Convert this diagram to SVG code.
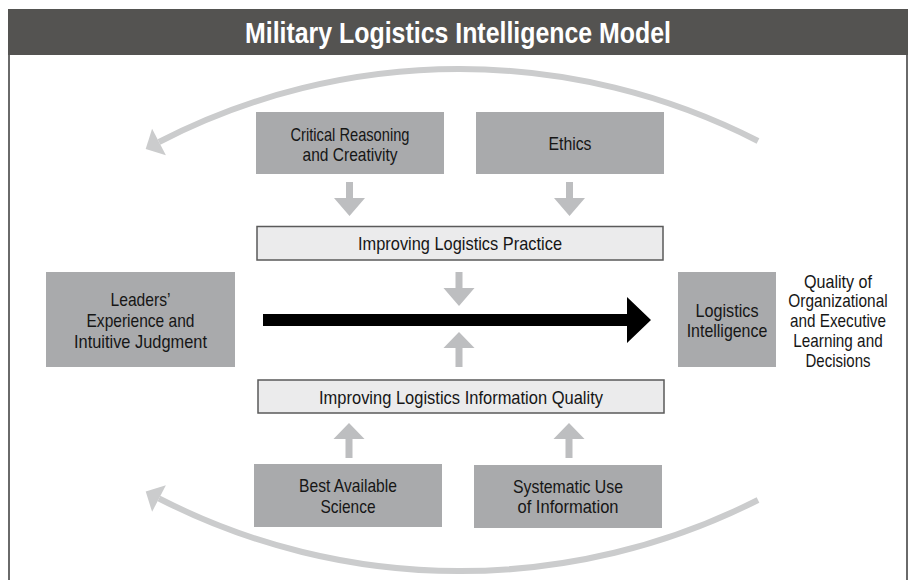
<svg xmlns="http://www.w3.org/2000/svg" xmlns:xlink="http://www.w3.org/1999/xlink" width="910" height="580" viewBox="0 0 910 580">
  <defs>
    <style>
      .box { fill: #a9aaac; }
      .lbox { fill: #ebebec; stroke: #5a5a5a; stroke-width: 1.5; }
      .t { font-family: "Liberation Sans", Arial, sans-serif; font-size: 19px; fill: #161616; text-anchor: middle; }
      .title { font-family: "Liberation Sans", Arial, sans-serif; font-size: 29px; font-weight: bold; fill: #ffffff; text-anchor: middle; }
      .arc { fill: none; stroke: #cbcccd; stroke-width: 6; }
      .archead { fill: #cbcccd; }
      .sarrow { fill: #bdbec0; }
      .border { stroke: #6a6a6a; stroke-width: 2; fill: none; }
    </style>
    <path id="arrow-down" d="M -3.5 -34 H 3.5 V -18 H 15.5 L 0 0 L -15.5 -18 H -3.5 Z"/>
    <path id="arrow-up" d="M -3.5 35 H 3.5 V 16 H 15.5 L 0 0 L -15.5 16 H -3.5 Z"/>
  </defs>

  <rect x="0" y="0" width="910" height="580" fill="#ffffff"/>

  <g id="frame">
    <rect x="8" y="9" width="900" height="46" fill="#545351"/>
    <line class="border" x1="9" y1="55" x2="9" y2="580"/>
    <line class="border" x1="907" y1="55" x2="907" y2="580"/>
    <text class="title" x="458" y="42.5" textLength="426" lengthAdjust="spacingAndGlyphs">Military Logistics Intelligence Model</text>
  </g>

  <g id="connectors">
    <path class="arc" d="M 758 141 A 655 655 0 0 0 159 142"/>
    <polygon class="archead" points="152.1,128.7 145.7,148.9 165.9,155.3"/>
    <path class="arc" d="M 758 500 A 660 660 0 0 1 159 498.5"/>
    <polygon class="archead" points="152.1,511.8 145.7,491.6 165.9,485.2"/>

    <use xlink:href="#arrow-down" class="sarrow" transform="translate(349.5,216)"/>
    <use xlink:href="#arrow-down" class="sarrow" transform="translate(569.5,216)"/>
    <use xlink:href="#arrow-down" class="sarrow" transform="translate(459,306)"/>
    <use xlink:href="#arrow-up" class="sarrow" transform="translate(459,332)"/>
    <use xlink:href="#arrow-up" class="sarrow" transform="translate(349,423)"/>
    <use xlink:href="#arrow-up" class="sarrow" transform="translate(569,423)"/>

    <path id="main-arrow" d="M 263 314 H 627 V 297 L 651 320 L 627 343 V 326 H 263 Z" fill="#000000"/>
  </g>

  <g id="node-critical">
    <rect class="box" x="256" y="112" width="188" height="62"/>
    <text class="t" x="350" y="141" textLength="119" lengthAdjust="spacingAndGlyphs">Critical Reasoning</text>
    <text class="t" x="350" y="161" textLength="95" lengthAdjust="spacingAndGlyphs">and Creativity</text>
  </g>

  <g id="node-ethics">
    <rect class="box" x="476" y="112" width="188" height="62"/>
    <text class="t" x="570" y="149.5" textLength="43" lengthAdjust="spacingAndGlyphs">Ethics</text>
  </g>

  <g id="node-practice">
    <rect class="lbox" x="257" y="226.5" width="406" height="33.5"/>
    <text class="t" x="460" y="250" textLength="204" lengthAdjust="spacingAndGlyphs">Improving Logistics Practice</text>
  </g>

  <g id="node-leaders">
    <rect class="box" x="46" y="272" width="189" height="95"/>
    <text class="t" x="140.5" y="306" textLength="60" lengthAdjust="spacingAndGlyphs">Leaders’</text>
    <text class="t" x="140.5" y="327" textLength="108" lengthAdjust="spacingAndGlyphs">Experience and</text>
    <text class="t" x="140.5" y="348" textLength="133" lengthAdjust="spacingAndGlyphs">Intuitive Judgment</text>
  </g>

  <g id="node-intelligence">
    <rect class="box" x="678" y="272" width="98" height="95"/>
    <text class="t" x="727" y="317" textLength="63" lengthAdjust="spacingAndGlyphs">Logistics</text>
    <text class="t" x="727" y="336.5" textLength="80.6" lengthAdjust="spacingAndGlyphs">Intelligence</text>
  </g>

  <g id="node-quality">
    <text class="t" x="838" y="287.5" textLength="68" lengthAdjust="spacingAndGlyphs">Quality of</text>
    <text class="t" x="838" y="307.3" textLength="99.3" lengthAdjust="spacingAndGlyphs">Organizational</text>
    <text class="t" x="838" y="327.1" textLength="96" lengthAdjust="spacingAndGlyphs">and Executive</text>
    <text class="t" x="838" y="346.9" textLength="89.3" lengthAdjust="spacingAndGlyphs">Learning and</text>
    <text class="t" x="838" y="366.7" textLength="65" lengthAdjust="spacingAndGlyphs">Decisions</text>
  </g>

  <g id="node-info-quality">
    <rect class="lbox" x="258" y="380" width="406" height="33"/>
    <text class="t" x="461" y="403.5" textLength="284" lengthAdjust="spacingAndGlyphs">Improving Logistics Information Quality</text>
  </g>

  <g id="node-science">
    <rect class="box" x="254" y="464" width="188" height="63"/>
    <text class="t" x="348" y="491.5" textLength="98" lengthAdjust="spacingAndGlyphs">Best Available</text>
    <text class="t" x="348" y="512.5" textLength="55" lengthAdjust="spacingAndGlyphs">Science</text>
  </g>

  <g id="node-systematic">
    <rect class="box" x="474" y="465" width="188" height="63"/>
    <text class="t" x="568" y="492.5" textLength="110" lengthAdjust="spacingAndGlyphs">Systematic Use</text>
    <text class="t" x="568" y="513" textLength="101" lengthAdjust="spacingAndGlyphs">of Information</text>
  </g>
</svg>
